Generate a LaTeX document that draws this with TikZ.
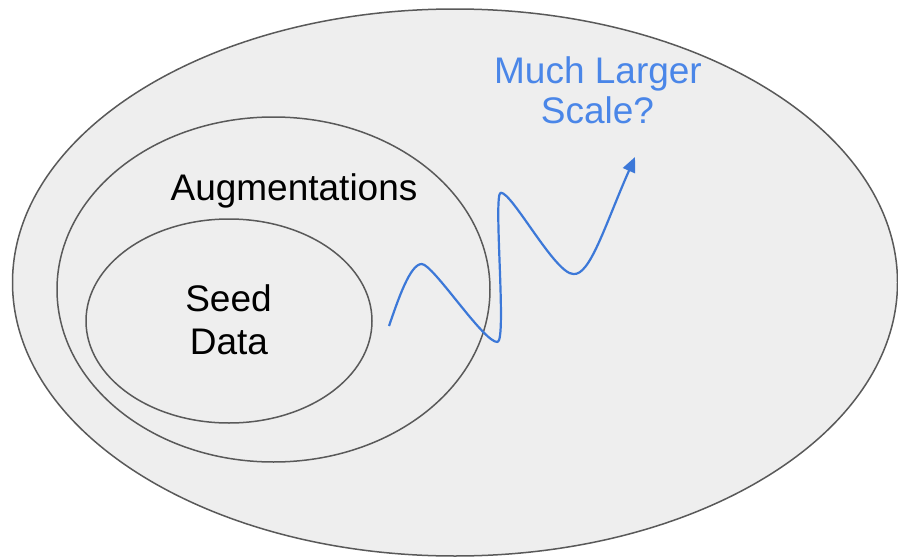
\documentclass[tikz,border=0pt]{standalone}
\usepackage{fontspec}
\setmainfont{Liberation Sans}
\usetikzlibrary{arrows.meta}
\definecolor{ringfill}{HTML}{EEEEEE}
\definecolor{ringline}{HTML}{595959}
\definecolor{accent}{HTML}{4A86E8}
\definecolor{wave}{HTML}{3C78D8}
\begin{document}
\begin{tikzpicture}[x=1pt,y=-1pt,
  ring/.style={draw=ringline,line width=1.5pt,fill=ringfill},
  label/.style={anchor=base,inner sep=0pt,font=\fontsize{37}{40}\selectfont,text=black},
  bluelabel/.style={label,text=accent},
  growth/.style={draw=wave,line width=2.2pt,line join=round,-{Triangle[length=15pt,width=13pt]}}]
  \useasboundingbox (0,0) rectangle (898,557);
  \fill[white] (0,0) rectangle (898,557);

  % nested sets
  \draw[ring] (455,282.5) ellipse [x radius=442.5pt, y radius=273.5pt];
  \draw[ring] (273.5,289.5) ellipse [x radius=216.5pt, y radius=172.5pt];
  \draw[ring] (229,321) ellipse [x radius=143pt, y radius=102pt];

  % labels
  \node[label] (aug) at (294,200.7) {Augmentations};
  \node[label] (seed) at (228.5,311.7) {Seed};
  \node[label] (data) at (229,354) {Data};
  \node[bluelabel] (much) at (598,83.3) {Much Larger};
  \node[bluelabel] (scale) at (597.5,123.3) {Scale?};

  % wavy growth arrow
  \coordinate (start) at (389,326);
  \coordinate (tip) at (635,157);
  \draw[growth] (start)
    .. controls (398,300) and (410,264) .. (421.7,264)
    .. controls (433,264) and (484,343) .. (497.5,342)
    .. controls (507,341) and (493,194) .. (500.7,192.7)
    .. controls (512,192) and (555,274) .. (573.3,274)
    .. controls (590,276) and (605,225) .. (tip);
\end{tikzpicture}
\end{document}
